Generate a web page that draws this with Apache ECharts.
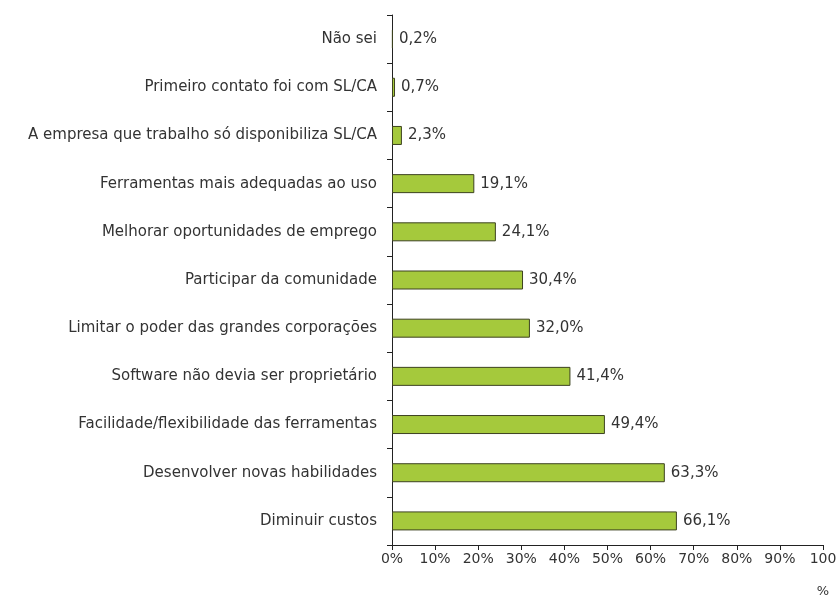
<!DOCTYPE html>
<html>
<head>
<meta charset="utf-8">
<script src="https://cdn.jsdelivr.net/npm/echarts@6/dist/echarts.min.js"></script>
<style>
  html, body { margin: 0; padding: 0; background: #fff; }
  #chart { width: 840px; height: 596px; }
</style>
</head>
<body>
<div id="chart"></div>
<script>
// categorias (de baixo para cima, como no eixo)
var categorias = [
    'Diminuir custos',
    'Desenvolver novas habilidades',
    'Facilidade/flexibilidade das ferramentas',
    'Software não devia ser proprietário',
    'Limitar o poder das grandes corporações',
    'Participar da comunidade',
    'Melhorar oportunidades de emprego',
    'Ferramentas mais adequadas ao uso',
    'A empresa que trabalho só disponibiliza SL/CA',
    'Primeiro contato foi com SL/CA',
    'Não sei'
];
var valores = [66.1, 63.3, 49.4, 41.4, 32.0, 30.4, 24.1, 19.1, 2.3, 0.7, 0.2];
var ticksX = ['0%', '10%', '20%', '30%', '40%', '50%', '60%', '70%', '80%', '90%', '100\n{p|%}'];

var fonte = '"DejaVu Sans", "Open Sans", sans-serif';
var corTexto = '#333';

var chart = echarts.init(document.getElementById('chart'));
chart.setOption({
    animation: false,
    textStyle: { fontFamily: fonte },
    grid: { left: 392, right: 17, top: 15, bottom: 51, containLabel: false, outerBoundsMode: 'none' },
    xAxis: {
        type: 'value',
        min: 0,
        max: 100,
        interval: 10,
        splitLine: { show: false },
        axisLine: { show: true, lineStyle: { color: '#222', width: 1 } },
        axisTick: { show: true, length: 5, lineStyle: { color: '#222' } },
        axisLabel: {
            color: corTexto,
            fontSize: 14,
            margin: 4,
            lineHeight: 20,
            rich: { p: { fontSize: 13, lineHeight: 46, color: corTexto } },
            formatter: function (v) { return ticksX[Math.round(v / 10)]; }
        }
    },
    yAxis: {
        type: 'category',
        data: categorias,
        axisLine: { show: true, lineStyle: { color: '#222', width: 1 } },
        axisTick: { show: true, length: 5, lineStyle: { color: '#222' } },
        axisLabel: { color: corTexto, fontSize: 15, margin: 15 }
    },
    series: [{
        type: 'bar',
        data: valores,
        barWidth: 19,
        itemStyle: { color: '#a5c93c', borderColor: '#3d4220', borderWidth: 1 },
        label: {
            show: true,
            position: 'right',
            distance: 6,
            color: corTexto,
            fontSize: 15,
            formatter: function (p) { return p.value.toFixed(1).replace('.', ',') + '%'; }
        }
    }]
});
</script>
</body>
</html>
